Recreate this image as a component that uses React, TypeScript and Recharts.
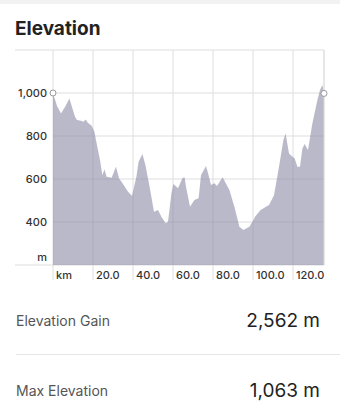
import React from 'react';
import { AreaChart, Area, XAxis, YAxis, CartesianGrid, ReferenceLine } from 'recharts';

const distanceKm = [
  0, 0.5, 2, 4, 6, 8.2, 10, 11, 12, 14, 15.2, 16.3, 17.3, 19.3, 20.7, 21.8, 23.5, 24.7, 25.7, 26.8,
  29.3, 31.5, 33, 35, 37.5, 39.5, 41.7, 42.8, 44.7, 46.2, 48.3, 50.5, 52.5, 54.2, 56.3, 57.5, 59.2,
  60.2, 62.5, 64.7, 65.8, 66.5, 68.5, 70.7, 72.8, 74, 76.5, 77.8, 79, 80.7, 82, 84.8, 88.2, 90.7,
  93.2, 95.2, 98.2, 100.7, 101, 103.8, 108, 110.5, 113, 115.2, 116.3, 118, 119.7, 120.8, 122.2,
  123.5, 124.7, 125.8, 127.5, 129.7, 132.2, 133.5, 134.7, 135.5,
];
const elevationM = [
  1000, 985, 940, 905, 935, 975, 920, 890, 874, 871, 866, 877, 863, 848, 820, 766, 688, 618, 645, 610,
  606, 657, 603, 577, 541, 522, 610, 680, 716, 665, 564, 448, 456, 425, 394, 401, 533,
  577, 557, 603, 608, 564, 471, 502, 510, 618, 660, 618, 572, 580, 567, 608, 549, 471,
  378, 363, 378, 417, 425, 456, 479, 525, 657, 781, 812, 719, 704, 696, 657,
  657, 742, 763, 735, 859, 967, 1014, 1037, 998,
];
const xTicks = [0, 20, 40, 60, 80, 100, 120];
const yTicks = [200, 400, 600, 800, 1000, 1200];
const statLabels = ['Elevation Gain', 'Max Elevation'];
const statValues = ['2,562 m', '1,063 m'];

const data = distanceKm.map((km, i) => ({ km, elev: elevationM[i] }));
const lastIdx = data.length - 1;

const GRID = '#dedede';
const FONT = 'Inter, "Noto Sans", sans-serif';

const YTick = (props: any) => {
  const { x, y, payload } = props;
  const v = payload.value;
  return (
    <g>
      {(v === 200 || v === 1200) && <line x1={15} x2={x} y1={y} y2={y} stroke={GRID} strokeWidth={1} />}
      {v !== 1200 && (
        <text
          x={x - 6}
          y={v === 200 ? y - 8 : y}
          textAnchor="end"
          dominantBaseline="central"
          fontSize={11}
          fontWeight={500}
          fill="#333"
          fontFamily={FONT}
        >
          {v === 200 ? 'm' : v.toLocaleString('en-US')}
        </text>
      )}
    </g>
  );
};

const XTick = (props: any) => {
  const { x, y, payload } = props;
  const v = payload.value;
  return (
    <g>
      <line x1={x} x2={x} y1={y} y2={y + 15} stroke={GRID} strokeWidth={1} />
      <text x={x + 3} y={y + 14} textAnchor="start" fontSize={11} fontWeight={500} fill="#333" fontFamily={FONT}>
        {v === 0 ? 'km' : v.toFixed(1)}
      </text>
    </g>
  );
};

const renderDot = (p: any) =>
  p.index === 0 || p.index === lastIdx ? (
    <circle key={`d${p.index}`} cx={p.cx} cy={p.cy} r={3} fill="#fff" stroke="#9a9a9a" strokeWidth={1} />
  ) : (
    <g key={`d${p.index}`} />
  );

export default function App() {
  return (
    <div style={{ position: 'absolute', left: 0, top: 0, width: 340, height: 415, background: '#fff', overflow: 'hidden' }}>
      <svg width={340} height={415} style={{ position: 'absolute', left: 0, top: 0 }}>
        <rect x={0} y={0} width={340} height={4} fill="#f2f2f2" />
        <text x={15} y={35} fontSize={19} fontWeight={700} fill="#222" fontFamily={FONT}>
          Elevation
        </text>
        {statLabels.map((label, i) => (
          <g key={label}>
            <text x={16} y={i === 0 ? 326 : 396} fontSize={14} fill="#555" fontFamily={FONT}>
              {label}
            </text>
            <text x={320} y={i === 0 ? 327 : 397} fontSize={19} textAnchor="end" fill="#222" fontFamily={FONT}>
              {statValues[i]}
            </text>
          </g>
        ))}
        <line x1={16} x2={340} y1={354.5} y2={354.5} stroke="#e6e6e6" strokeWidth={1} />
      </svg>
      <div style={{ position: 'absolute', left: 0, top: 0 }}>
        <AreaChart width={340} height={290} data={data} margin={{ top: 50, right: 16, bottom: 0, left: 0 }}>
          <CartesianGrid stroke={GRID} strokeWidth={1} />
          <XAxis
            dataKey="km"
            type="number"
            domain={[0, 135.5]}
            ticks={xTicks}
            interval={0}
            height={25}
            axisLine={false}
            tickLine={false}
            tickSize={0}
            tickMargin={0}
            tick={<XTick />}
          />
          <YAxis
            type="number"
            domain={[200, 1200]}
            ticks={yTicks}
            interval={0}
            width={53}
            axisLine={false}
            tickLine={false}
            tickSize={0}
            tickMargin={0}
            tick={<YTick />}
          />
          <ReferenceLine x={135.5} stroke={GRID} strokeWidth={1} />
          <Area
            type="linear"
            dataKey="elev"
            fill="#8c8aa5"
            fillOpacity={0.6}
            stroke="none"
            dot={renderDot}
            activeDot={false}
            isAnimationActive={false}
          />
        </AreaChart>
      </div>
    </div>
  );
}
